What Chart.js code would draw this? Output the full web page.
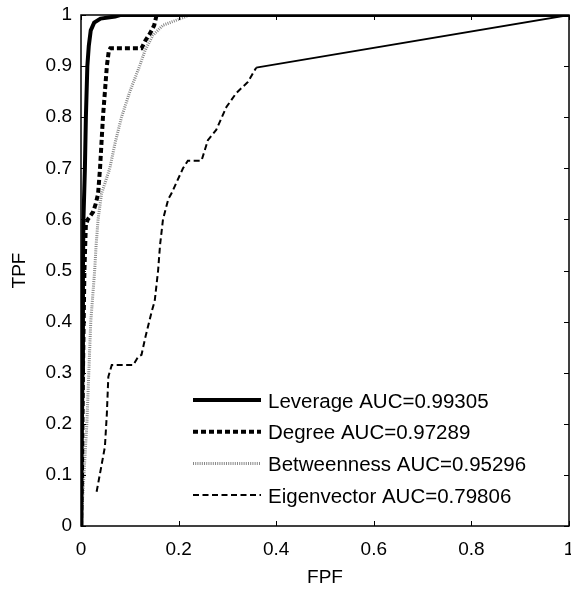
<!DOCTYPE html>
<html>
<head>
<meta charset="utf-8">
<title>ROC curves</title>
<script src="https://cdn.jsdelivr.net/npm/chart.js@4/dist/chart.umd.min.js"></script>
<style>
  html, body { margin: 0; padding: 0; background: #fff; }
</style>
</head>
<body>
<canvas id="rocChart" width="571" height="592"></canvas>
<script>
// ROC curves: TPF vs FPF for four ranking measures
const xTickLabels = ['0', '0.2', '0.4', '0.6', '0.8', '1'];
const yTickLabels = ['0', '0.1', '0.2', '0.3', '0.4', '0.5', '0.6', '0.7', '0.8', '0.9', '1'];

const seriesNames = [
  'Leverage AUC=0.99305',
  'Degree AUC=0.97289',
  'Betweenness AUC=0.95296',
  'Eigenvector AUC=0.79806'
];

const leverageFpf = [0, 0.001, 0.003, 0.004, 0.005, 0.008, 0.010, 0.013, 0.016, 0.020, 0.027, 0.040, 0.070, 0.080, 1];
const leverageTpf = [0, 0.10, 0.30, 0.50, 0.60, 0.70, 0.80, 0.90, 0.94, 0.97, 0.985, 0.993, 0.997, 1, 1];

const degreeFpf = [0, 0.002, 0.004, 0.007, 0.010, 0.014, 0.025, 0.030, 0.035, 0.039, 0.042, 0.045, 0.049, 0.053, 0.057, 0.060, 0.124, 0.132, 0.142, 0.150, 0.155, 1];
const degreeTpf = [0, 0.10, 0.30, 0.50, 0.59, 0.60, 0.615, 0.63, 0.65, 0.70, 0.75, 0.80, 0.85, 0.90, 0.93, 0.935, 0.935, 0.95, 0.965, 0.98, 1, 1];

const betweennessFpf = [0, 0.003, 0.006, 0.009, 0.012, 0.014, 0.016, 0.018, 0.020, 0.024, 0.028, 0.031, 0.035, 0.042, 0.059, 0.070, 0.083, 0.100, 0.120, 0.131, 0.147, 0.168, 0.196, 0.223, 1];
const betweennessTpf = [0, 0.05, 0.10, 0.15, 0.20, 0.25, 0.30, 0.35, 0.40, 0.45, 0.50, 0.55, 0.60, 0.65, 0.70, 0.75, 0.80, 0.85, 0.90, 0.93, 0.96, 0.98, 0.99, 1, 1];

const eigenvectorFpf = [0.032, 0.039, 0.049, 0.053, 0.056, 0.063, 0.107, 0.117, 0.124, 0.132, 0.145, 0.151, 0.158, 0.162, 0.168, 0.179, 0.185, 0.209, 0.219, 0.247, 0.260, 0.277, 0.298, 0.318, 0.342, 0.359, 1];
const eigenvectorTpf = [0.067, 0.103, 0.155, 0.22, 0.292, 0.315, 0.315, 0.331, 0.335, 0.37, 0.42, 0.44, 0.50, 0.55, 0.60, 0.64, 0.65, 0.70, 0.715, 0.715, 0.755, 0.775, 0.82, 0.847, 0.869, 0.897, 1];

const FONT = 'Liberation Sans, Arial, Helvetica, sans-serif';

function toPoints(xs, ys) {
  return xs.map((x, i) => ({ x: x, y: ys[i] }));
}

// box round the plot with small ticks pointing inward (all four sides)
const frameBox = {
  id: 'frameBox',
  afterDatasetsDraw(chart) {
    const { ctx, chartArea: a, scales } = chart;
    const len = 5;
    ctx.save();
    ctx.strokeStyle = '#000';
    ctx.lineWidth = 1.5;
    ctx.strokeRect(a.left, a.top, a.right - a.left, a.bottom - a.top);
    ctx.lineWidth = 1;
    ctx.beginPath();
    scales.x.ticks.forEach(t => {
      const px = Math.round(scales.x.getPixelForValue(t.value)) + 0.5;
      ctx.moveTo(px, a.bottom); ctx.lineTo(px, a.bottom - len);
      ctx.moveTo(px, a.top); ctx.lineTo(px, a.top + len);
    });
    scales.y.ticks.forEach(t => {
      const py = Math.round(scales.y.getPixelForValue(t.value)) + 0.5;
      ctx.moveTo(a.left, py); ctx.lineTo(a.left + len, py);
      ctx.moveTo(a.right, py); ctx.lineTo(a.right - len, py);
    });
    ctx.stroke();
    ctx.restore();
  }
};

// legend drawn inside the plot, lower right
const innerLegend = {
  id: 'innerLegend',
  afterDraw(chart) {
    const { ctx, chartArea: a } = chart;
    const x0 = a.left + 112, x1 = a.left + 180, tx = a.left + 187;
    const y0 = a.top + 385, step = 31.7;
    ctx.save();
    ctx.font = '20.5px ' + FONT;
    ctx.fillStyle = '#000';
    ctx.textBaseline = 'middle';
    ctx.textAlign = 'left';
    chart.data.datasets.forEach((ds, i) => {
      const y = y0 + i * step;
      ctx.beginPath();
      ctx.strokeStyle = ds.borderColor;
      ctx.lineWidth = ds.borderWidth;
      ctx.setLineDash(ds.borderDash || []);
      ctx.moveTo(x0, y);
      ctx.lineTo(x1, y);
      ctx.stroke();
      ctx.setLineDash([]);
      ctx.fillText(ds.label, tx, y + 2);
    });
    ctx.restore();
  }
};

const ctx = document.getElementById('rocChart').getContext('2d');
const rocChart = new Chart(ctx, {
  type: 'scatter',
  data: {
    datasets: [
      {
        label: seriesNames[0],
        data: toPoints(leverageFpf, leverageTpf),
        borderColor: '#000',
        borderWidth: 4,
        borderDash: []
      },
      {
        label: seriesNames[1],
        data: toPoints(degreeFpf, degreeTpf),
        borderColor: '#000',
        borderWidth: 4,
        borderDash: [5, 3]
      },
      {
        label: seriesNames[2],
        data: toPoints(betweennessFpf, betweennessTpf),
        borderColor: '#888888',
        borderWidth: 3,
        borderDash: [1, 1.2]
      },
      {
        label: seriesNames[3],
        data: toPoints(eigenvectorFpf, eigenvectorTpf),
        borderColor: '#000',
        borderWidth: 2,
        borderDash: [6, 3.5],
        segment: {
          // the last stretch to (1,1) looks solid in the original
          borderDash: c => c.p0.parsed.x > 0.35 ? [] : undefined,
          borderWidth: c => c.p0.parsed.x > 0.35 ? 1.8 : undefined
        }
      }
    ]
  },
  options: {
    responsive: false,
    animation: false,
    showLine: true,
    elements: {
      point: { radius: 0, hoverRadius: 0 },
      line: { tension: 0, fill: false }
    },
    layout: { autoPadding: false, padding: { top: 15, right: 2, left: 0, bottom: 0 } },
    plugins: {
      legend: { display: false },
      tooltip: { enabled: false }
    },
    scales: {
      x: {
        type: 'linear',
        min: 0,
        max: 1,
        grid: { display: false, drawTicks: false },
        border: { display: false },
        ticks: {
          stepSize: 0.2,
          padding: 12,
          maxRotation: 0,
          color: '#000',
          font: { family: FONT, size: 19 },
          callback: (v, i) => xTickLabels[i]
        },
        title: {
          display: true,
          text: 'FPF',
          color: '#000',
          font: { family: FONT, size: 19 },
          padding: { top: 0, bottom: 3 }
        },
        afterFit: s => { s.height = 66; s.paddingLeft = 0; s.paddingRight = 0; }
      },
      y: {
        type: 'linear',
        min: 0,
        max: 1,
        grid: { display: false, drawTicks: false },
        border: { display: false },
        ticks: {
          stepSize: 0.1,
          padding: 9,
          color: '#000',
          font: { family: FONT, size: 19 },
          callback: (v, i) => yTickLabels[i]
        },
        title: {
          display: true,
          text: 'TPF',
          color: '#000',
          font: { family: FONT, size: 19 },
          padding: { top: 8, bottom: 0 }
        },
        afterFit: s => { s.width = 81; s.paddingTop = 0; s.paddingBottom = 0; }
      }
    }
  },
  plugins: [frameBox, innerLegend]
});
</script>
</body>
</html>
